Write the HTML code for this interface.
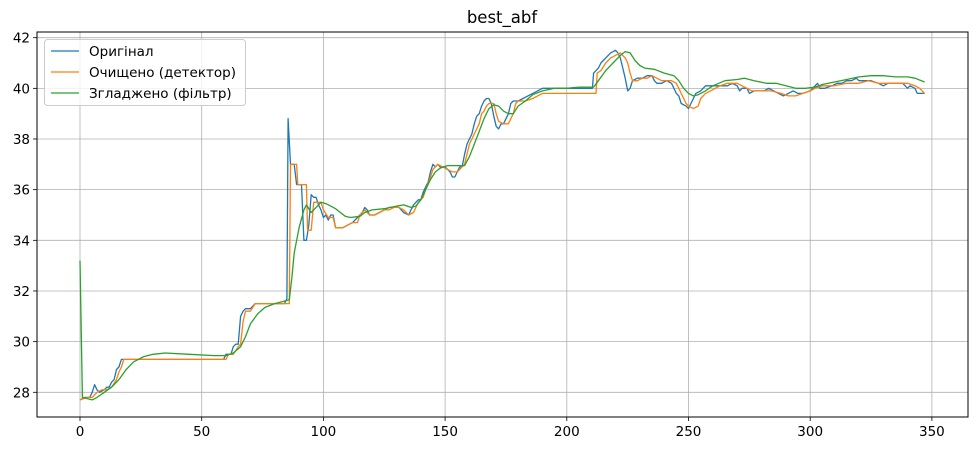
<!DOCTYPE html>
<html><head><meta charset="utf-8"><style>
body{margin:0;background:#fff}
svg{display:block;font-family:"DejaVu Sans","Liberation Sans",sans-serif}
</style></head><body>
<svg id="chart" width="977" height="451">
<rect width="977" height="451" fill="#fff"/>
<g id="grid"></g>
<g id="ticks"></g>
<g id="series"></g>
<rect x="37" y="32" width="931" height="385" fill="none" stroke="#000" stroke-width="1"/>
<text x="502" y="23" text-anchor="middle" font-size="16.5">best_abf</text>
<g>
<rect x="44.5" y="39.5" width="201" height="66" rx="3" fill="#fff" fill-opacity="0.8" stroke="#ccc"/>
<g><line x1="51" y1="51" x2="79" y2="51" stroke="#1f77b4" stroke-width="1.3"/><text x="89" y="56" font-size="13.5">Оригінал</text></g>
<g><line x1="51" y1="72" x2="79" y2="72" stroke="#ff7f0e" stroke-width="1.3"/><text x="89" y="77" font-size="13.5">Очищено (детектор)</text></g>
<g><line x1="51" y1="93" x2="79" y2="93" stroke="#2ca02c" stroke-width="1.3"/><text x="89" y="98" font-size="13.5">Згладжено (фільтр)</text></g>
</g>
</svg>
<script>
const xTicks=[0,50,100,150,200,250,300,350];
const yTicks=[28,30,32,34,36,38,40,42];
const origX=[0,2,4,5,6,7,8,10,11,12,13,14,15,16,17,18,59,60,62,63,64,65,66,67,68,70,72,84,85,85.5,86.5,88,89,91,92,93,94,95,96,97,98,99,100,101,102,103,104,105,108,110,112,114,116,117,118,119,121,123,125,127,129,131,133,135,136,137,138,139,140,141,142,143,144,145,146,147,148,150,152,153,154,155,156,157,158,159,160,161,162,163,164,165,166,167,168,169,170,171,172,173,174,175,176,177,178,180,182,184,186,188,190,210.5,211,212,213,214,215,216,217,218,220,221,222,223,224,225,226,227,229,231,233,235,236,237,239,241,243,244,245,246,247,249,250,251,252,253,255,257,260,263,266,268,270,271,272,274,275,277,279,281,283,285,287,289,291,293,295,297,300,302,303,304,306,309,311,313,315,317,319,320,322,325,328,330,332,335,338,340,341,343,344,347];
const origY=[27.7,27.8,27.8,28.0,28.3,28.1,28.0,28.1,28.2,28.2,28.4,28.5,28.9,29.0,29.3,29.3,29.3,29.5,29.5,29.8,29.9,29.9,31.0,31.2,31.3,31.3,31.5,31.5,31.7,38.8,37.0,37.0,36.2,36.2,34.0,34.0,34.6,35.8,35.7,35.7,35.4,35.2,34.9,35.0,34.8,35.0,35.0,34.5,34.5,34.6,34.7,34.9,35.1,35.3,35.2,35.0,35.0,35.1,35.2,35.3,35.3,35.3,35.1,35.0,35.2,35.4,35.5,35.6,35.6,35.9,36.1,36.3,36.7,37.0,36.9,37.0,36.9,36.9,36.7,36.5,36.5,36.7,36.9,36.9,37.4,37.8,38.0,38.2,38.6,38.9,39.0,39.3,39.5,39.6,39.6,39.4,38.9,38.5,38.4,38.6,38.6,38.8,39.0,39.4,39.5,39.5,39.6,39.7,39.8,39.9,40.0,40.0,40.6,40.7,40.8,41.0,41.1,41.2,41.3,41.4,41.5,41.4,41.2,40.8,40.4,39.9,40.0,40.3,40.4,40.4,40.5,40.5,40.3,40.2,40.2,40.3,40.2,40.0,39.8,39.7,39.4,39.3,39.2,39.4,39.6,39.8,39.9,40.1,40.1,40.1,40.1,40.2,40.1,39.9,40.0,40.0,39.8,39.9,39.9,39.9,40.0,39.9,39.8,39.7,39.8,39.9,39.8,39.8,39.9,40.1,40.2,40.0,40.0,40.1,40.2,40.2,40.3,40.3,40.4,40.3,40.3,40.3,40.2,40.1,40.2,40.2,40.2,40.0,40.1,40.0,39.8,39.8];
const cleanX=[0,3,5,7,9,11,13,15,16,17,18,60,61,63,65,66,67,68,70,72,86,86.5,89,89.5,93,93.5,95,96,99,100,102,104,105,108,110,112,114,115,117,119,121,123,125,127,129,131,133,135,137,139,141,142,144,145,147,149,151,153,155,156,158,159,160,162,164,165,166,167,168,170,171,172,174,176,177,178,179,180,183,186,188,190,212,212.5,214,216,218,220,222,224,225,226,227,229,231,233,235,237,239,241,243,245,246,247,249,250,252,254,255,257,259,261,263,266,270,272,274,276,280,284,288,291,294,297,300,302,305,310,315,320,324,328,332,336,340,343,345,347];
const cleanY=[27.7,27.8,27.8,28.0,28.1,28.1,28.2,28.5,28.8,29.0,29.3,29.3,29.5,29.5,29.8,29.9,30.8,31.2,31.2,31.5,31.5,37.0,37.0,36.2,36.2,34.4,34.4,35.5,35.5,35.2,34.9,34.9,34.5,34.5,34.6,34.7,34.7,35.0,35.2,35.0,35.0,35.1,35.2,35.2,35.3,35.3,35.2,35.0,35.1,35.5,35.7,36.0,36.5,36.8,37.0,36.9,36.8,36.7,36.7,36.8,37.0,37.4,37.8,38.2,38.6,39.0,39.1,39.3,39.4,39.4,39.0,38.7,38.6,38.6,38.8,39.0,39.4,39.5,39.5,39.6,39.7,39.8,39.8,40.6,40.7,41.0,41.2,41.3,41.4,41.2,41.0,40.6,40.3,40.3,40.4,40.4,40.5,40.4,40.3,40.3,40.3,40.2,40.0,39.8,39.4,39.3,39.2,39.3,39.6,39.8,39.9,40.0,40.1,40.2,40.2,40.1,40.0,39.9,39.9,39.9,39.8,39.7,39.7,39.8,39.9,40.0,40.1,40.1,40.2,40.2,40.3,40.2,40.2,40.2,40.2,40.1,40.0,39.8];
const smoothX=[0,1,3,5,7,10,13,16,19,22,26,30,35,45,55,60,63,66,68,70,73,76,80,84,86,87,88,90,92,93,95,97,99,101,103,105,107,109,111,115,117,120,125,130,133,136,138,140,142,144,146,148,151,155,158,160,162,164,166,168,170,172,174,176,178,180,183,186,190,195,200,205,211,213,216,219,222,224,226,228,230,232,236,240,244,246,248,250,252,254,257,260,265,270,273,277,282,286,290,294,298,302,305,310,315,320,325,330,335,340,343,347];
const smoothY=[33.2,27.8,27.75,27.7,27.8,28.0,28.2,28.5,28.9,29.2,29.4,29.5,29.55,29.5,29.45,29.45,29.55,29.8,30.2,30.7,31.1,31.35,31.5,31.6,31.65,32.5,33.5,34.5,35.2,35.4,35.1,35.3,35.5,35.45,35.35,35.25,35.1,34.95,34.9,34.95,35.1,35.2,35.25,35.35,35.4,35.3,35.35,35.6,36.0,36.4,36.7,36.85,36.95,36.95,36.95,37.3,37.8,38.3,38.8,39.2,39.35,39.3,39.1,39.0,39.0,39.3,39.5,39.75,39.9,40.0,40.0,40.05,40.05,40.3,40.7,41.0,41.3,41.45,41.4,41.1,40.9,40.8,40.75,40.6,40.5,40.3,40.0,39.8,39.7,39.75,39.9,40.1,40.3,40.35,40.4,40.3,40.2,40.2,40.1,40.0,40.0,40.05,40.15,40.25,40.35,40.45,40.5,40.5,40.45,40.45,40.4,40.25];

const NS='http://www.w3.org/2000/svg';
const PL=37,PR=968,PT=32,PB=417;
function sx(v){return 80+v*2.434;}
function sy(v){return 392.3-(v-28)*25.33;}
function mk(tag,attrs,parent){const e=document.createElementNS(NS,tag);for(const k in attrs)e.setAttribute(k,attrs[k]);parent.appendChild(e);return e;}
const grid=document.getElementById('grid'),ticks=document.getElementById('ticks'),ser=document.getElementById('series');
xTicks.forEach(t=>{const x=sx(t);
 const g=mk('line',{x1:x,x2:x,y1:PT,y2:PB,stroke:'#b0b0b0','stroke-width':0.8},grid);
 
 
 const tk=mk('line',{x1:x,x2:x,y1:PB,y2:PB+4,stroke:'#000','stroke-width':0.8},ticks);
 
 
 const l=mk('text',{x:x,y:PB+19,'text-anchor':'middle','font-size':13.5},ticks);l.textContent=t;
 
 
});
yTicks.forEach(t=>{const y=sy(t);
 const g=mk('line',{x1:PL,x2:PR,y1:y,y2:y,stroke:'#b0b0b0','stroke-width':0.8},grid);
 
 
 const tk=mk('line',{x1:PL-4,x2:PL,y1:y,y2:y,stroke:'#000','stroke-width':0.8},ticks);
 
 
 const l=mk('text',{x:PL-7,y:y+5,'text-anchor':'end','font-size':13.5},ticks);l.textContent=t;
 
 
});
function line(xs,ys,color,name){
 const d=xs.map((x,i)=>(i?'L':'M')+sx(x).toFixed(1)+','+sy(ys[i]).toFixed(1)).join('');
 const p=mk('path',{d:d,fill:'none',stroke:color,'stroke-width':1.3,'stroke-linejoin':'round'},ser);
 
 
}
line(origX,origY,'#1f77b4','original-line');
line(cleanX,cleanY,'#ff7f0e','cleaned-line');
line(smoothX,smoothY,'#2ca02c','smoothed-line');
</script>
</body></html>
